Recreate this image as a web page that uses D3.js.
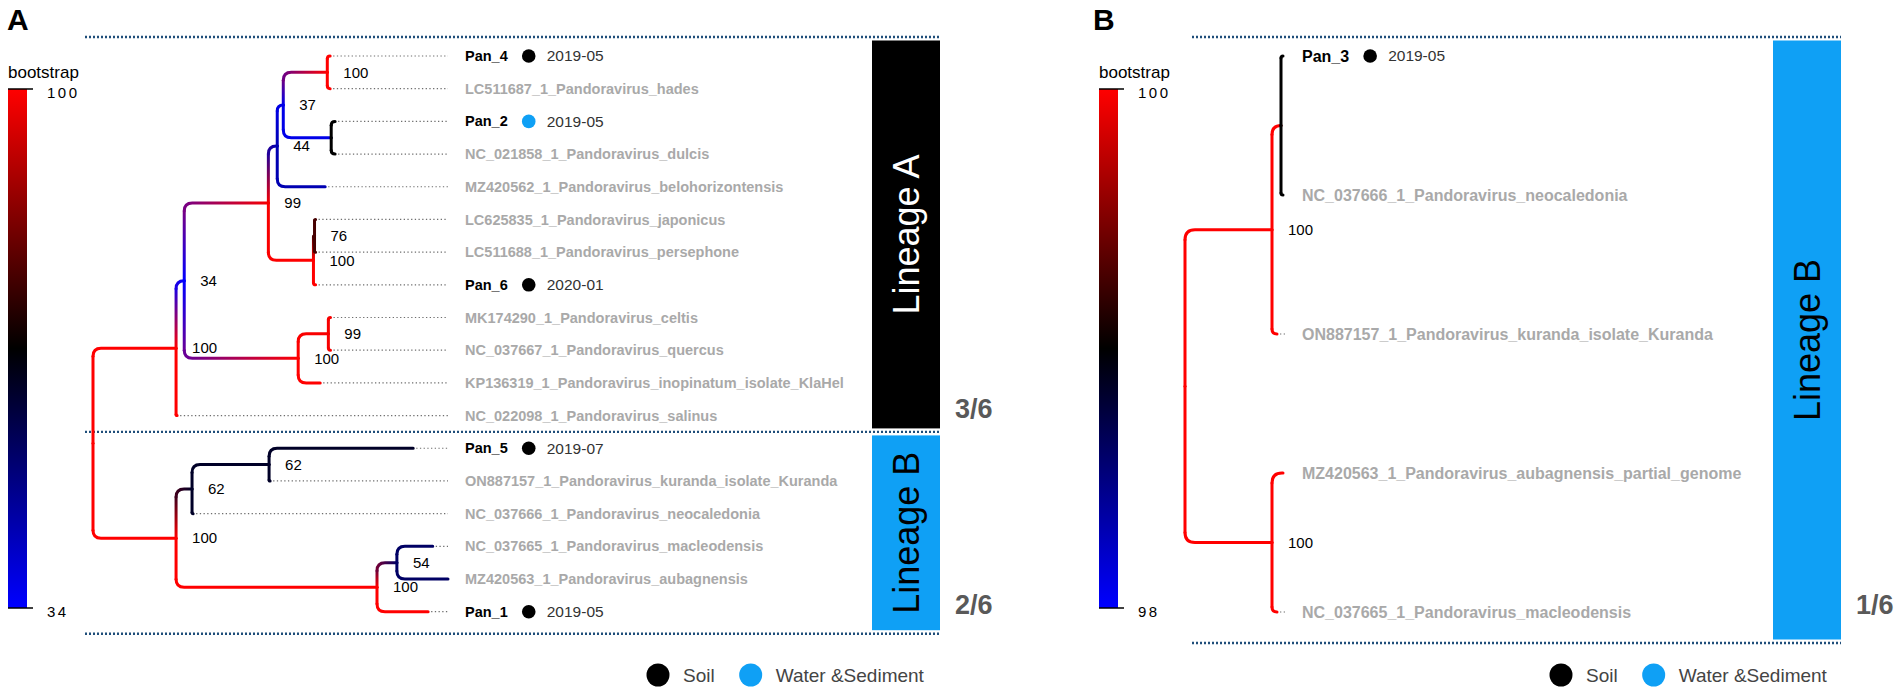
<!DOCTYPE html>
<html>
<head>
<meta charset="utf-8">
<script src="https://cdn.jsdelivr.net/npm/d3@7"></script>
<style>
  body { margin: 0; background: #fff; }
  text { font-family: "Liberation Sans", Arial, Helvetica, sans-serif; }
</style>
</head>
<body>
<script>
// Tree A: [id, parent, branch length, bootstrap]
const nodesA = [
  ["rootA", "", 0, 100],
  ["LinA", "rootA", 0.234, 100],
  ["n34", "LinA", 0.023, 34],
  ["n99", "n34", 0.237, 99],
  ["n44", "n99", 0.025, 44],
  ["n37", "n44", 0.017, 37],
  ["n100a", "n37", 0.124, 100],
  ["Pan_4", "n100a", 0.008, null],
  ["LC511687_1_Pandoravirus_hades", "n100a", 0.008, null],
  ["nPan2", "n37", 0.135, null],
  ["Pan_2", "nPan2", 0.011, null],
  ["NC_021858_1_Pandoravirus_dulcis", "nPan2", 0.011, null],
  ["MZ420562_1_Pandoravirus_belohorizontensis", "n44", 0.135, null],
  ["n100b", "n99", 0.127, 100],
  ["n76", "n100b", 0.003, 76],
  ["LC625835_1_Pandoravirus_japonicus", "n76", 0.003, null],
  ["LC511688_1_Pandoravirus_persephone", "n76", 0.003, null],
  ["Pan_6", "n100b", 0.006, null],
  ["n100c", "n34", 0.321, 100],
  ["n99c", "n100c", 0.085, 99],
  ["MK174290_1_Pandoravirus_celtis", "n99c", 0.006, null],
  ["NC_037667_1_Pandoravirus_quercus", "n99c", 0.006, null],
  ["KP136319_1_Pandoravirus_inopinatum_isolate_KlaHel", "n100c", 0.062, null],
  ["NC_022098_1_Pandoravirus_salinus", "LinA", 0.003, null],
  ["LinB", "rootA", 0.234, 100],
  ["n62a", "LinB", 0.045, 62],
  ["n62b", "n62a", 0.217, 62],
  ["Pan_5", "n62b", 0.406, null],
  ["ON887157_1_Pandoravirus_kuranda_isolate_Kuranda", "n62b", 0.003, null],
  ["NC_037666_1_Pandoravirus_neocaledonia", "n62a", 0.003, null],
  ["n100m", "LinB", 0.566, 100],
  ["n54", "n100m", 0.056, 54],
  ["NC_037665_1_Pandoravirus_macleodensis", "n54", 0.101, null],
  ["MZ420563_1_Pandoravirus_aubagnensis", "n54", 0.144, null],
  ["Pan_1", "n100m", 0.144, null]
];

// Tree B
const nodesB = [
  ["rootB", "", 0, 100],
  ["up", "rootB", 0.87, 100],
  ["sub", "up", 0.09, null],
  ["Pan_3", "sub", 0.02, null],
  ["NC_037666_1_Pandoravirus_neocaledonia", "sub", 0.02, null],
  ["ON887157_1_Pandoravirus_kuranda_isolate_Kuranda", "up", 0.05, null],
  ["low", "rootB", 0.87, 100],
  ["MZ420563_1_Pandoravirus_aubagnensis_partial_genome", "low", 0.11, null],
  ["NC_037665_1_Pandoravirus_macleodensis", "low", 0.05, null]
];

// Our samples
const sampleNames  = ["Pan_1", "Pan_2", "Pan_3", "Pan_4", "Pan_5", "Pan_6"];
const sampleSource = ["Soil", "Water &Sediment", "Soil", "Soil", "Soil", "Soil"];
const sampleDate   = ["2019-05", "2019-05", "2019-05", "2019-05", "2019-07", "2020-01"];

const sources = ["Soil", "Water &Sediment"];
const sourceColors = ["#000000", "#0fa0f5"];

// Lineages
const lineagesA   = ["Lineage A", "Lineage B"];
const lineageFirstA = ["Pan_4", "Pan_5"];
const lineageLastA  = ["NC_022098_1_Pandoravirus_salinus", "Pan_1"];
const countsA     = ["3/6", "2/6"];
const lineagesB   = ["Lineage B"];
const lineageFirstB = ["Pan_3"];
const lineageLastB  = ["NC_037665_1_Pandoravirus_macleodensis"];
const countsB     = ["1/6"];

const bootRangeA = [34, 100];
const bootRangeB = [98, 100];

const sourceColor = d3.scaleOrdinal(sources, sourceColors);
const lineageFill = d3.scaleOrdinal(["Lineage A", "Lineage B"], ["#000000", "#0fa0f5"]);
const lineageText = d3.scaleOrdinal(["Lineage A", "Lineage B"], ["#ffffff", "#000000"]);

const W = 1902, H = 694;
const svg = d3.select("body").append("svg")
    .attr("width", W).attr("height", H)
    .attr("viewBox", `0 0 ${W} ${H}`);
const defs = svg.append("defs");
let gradCount = 0;

function gradient(xa, ya, xb, yb, ca, cb) {
    const id = "g" + (gradCount++);
    const g = defs.append("linearGradient").attr("id", id)
        .attr("gradientUnits", "userSpaceOnUse")
        .attr("x1", xa).attr("y1", ya).attr("x2", xb).attr("y2", yb);
    g.append("stop").attr("offset", 0).attr("stop-color", ca);
    g.append("stop").attr("offset", 1).attr("stop-color", cb);
    return `url(#${id})`;
}

function drawPanel(cfg) {
    const g = svg.append("g");

    // panel letter
    g.append("text").attr("x", cfg.letterX).attr("y", 30)
        .text(cfg.letter)
        .style("font-size", "30px").style("font-weight", "bold");

    // color scale (blue - black - red)
    const [lo, hi] = cfg.bootRange;
    const color = d3.scaleLinear()
        .domain([lo, (lo + hi) / 2, hi])
        .range(["#0000ff", "#000000", "#ff0000"])
        .clamp(true);

    // colorbar
    const barY = d3.scaleLinear().domain(cfg.bootRange).range([608, 89]);
    const cbId = "cb" + cfg.letter;
    const cb = defs.append("linearGradient").attr("id", cbId)
        .attr("x1", 0).attr("y1", 1).attr("x2", 0).attr("y2", 0);
    d3.range(0, 1.0001, 0.1).forEach(t => {
        cb.append("stop").attr("offset", t).attr("stop-color", color(lo + t * (hi - lo)));
    });
    g.append("text").attr("x", cfg.barX).attr("y", 78)
        .text("bootstrap").style("font-size", "17px");
    g.append("rect")
        .attr("x", cfg.barX).attr("y", barY(hi))
        .attr("width", 19).attr("height", barY(lo) - barY(hi))
        .attr("fill", `url(#${cbId})`);
    [lo, hi].forEach(v => {
        g.append("line")
            .attr("x1", cfg.barX).attr("x2", cfg.barX + 25)
            .attr("y1", barY(v)).attr("y2", barY(v))
            .attr("stroke", "#000").attr("stroke-width", 1.5);
        g.append("text")
            .attr("x", cfg.barX + 39).attr("y", barY(v) + 4).attr("dy", "0.35em")
            .text(v).style("font-size", "15px").style("letter-spacing", "2.5px");
    });

    // build tree
    const root = d3.stratify().id(d => d[0]).parentId(d => d[1] || null)(cfg.nodes);
    root.eachBefore(n => { n.dist = n.parent ? n.parent.dist + n.data[2] : 0; });
    const tips = root.leaves().map(d => d.id);
    const x = d3.scaleLinear().domain([0, 1]).range([cfg.x0, cfg.x1]);
    const y = d3.scalePoint().domain(tips).range([cfg.yTop, cfg.yBot]);
    root.eachAfter(n => {
        n.px = x(n.dist);
        n.py = n.children
            ? (n.children[0].py + n.children[n.children.length - 1].py) / 2
            : y(n.id);
    });
    // colour leaving a node (its own vertical and its children's edges start here)
    const outColor = n => n.data[3] == null ? "#000000" : color(n.data[3]);
    // colour at the end of the edge arriving at a node
    const inColor = n => (n.children && n.data[3] != null) ? color(n.data[3]) : outColor(n.parent);

    // section dotted lines
    const lineYs = [y(cfg.first[0]) - 19];
    for (let i = 0; i < cfg.lineages.length - 1; i++) {
        lineYs.push((y(cfg.last[i]) + y(cfg.first[i + 1])) / 2);
    }
    lineYs.push(y(cfg.last[cfg.last.length - 1]) + cfg.padBottom);
    lineYs.forEach(ly => {
        g.append("line")
            .attr("x1", cfg.lineX0).attr("x2", cfg.boxX + 68)
            .attr("y1", ly).attr("y2", ly)
            .attr("stroke", "#1f4e7a").attr("stroke-width", 2.4)
            .attr("stroke-dasharray", "2,2");
    });

    // lineage boxes
    cfg.lineages.forEach((name, i) => {
        const top = lineYs[i] + 3.5, bot = lineYs[i + 1] - 3.5;
        g.append("rect")
            .attr("x", cfg.boxX).attr("y", top)
            .attr("width", 68).attr("height", bot - top)
            .attr("fill", lineageFill(name));
        g.append("text")
            .attr("transform", `translate(${cfg.boxX + 34},${(top + bot) / 2}) rotate(-90)`)
            .attr("text-anchor", "middle").attr("dy", "0.35em")
            .text(name)
            .style("font-size", "36px").style("fill", lineageText(name));
        g.append("text")
            .attr("x", cfg.boxX + 83).attr("y", y(cfg.last[i]) + 2)
            .text(cfg.counts[i])
            .style("font-size", "27px").style("font-weight", "bold").style("fill", "#595959");
    });

    // leader lines
    const leaderEnd = x(1);
    root.leaves().forEach(n => {
        if (n.px < leaderEnd - 2) {
            g.append("line")
                .attr("x1", n.px + 3).attr("x2", leaderEnd)
                .attr("y1", n.py).attr("y2", n.py)
                .attr("stroke", "#6e6e6e").attr("stroke-width", 1.2)
                .attr("stroke-dasharray", "1.3,2.4");
        }
    });

    // edges: elbow with rounded corner, colour blended from parent to child
    const edges = g.append("g").attr("fill", "none")
        .attr("stroke-width", 3).attr("stroke-linecap", "round");
    root.descendants().filter(n => n.parent).forEach(n => {
        const p = n.parent;
        const x0 = p.px, y0 = p.py, x1 = n.px, y1 = n.py;
        const c0 = outColor(p), c1 = inColor(n);
        const dy = y1 - y0, s = Math.sign(dy) || 1, ady = Math.abs(dy), dx = x1 - x0;
        const r = Math.max(0, Math.min(cfg.radius, ady, dx));
        const L = (ady + dx) || 1;
        const cm = d3.interpolateRgb(c0, c1)(ady / L);
        const yc = y1 - s * r;
        if (Math.abs(yc - y0) > 0.1) {
            edges.append("path")
                .attr("d", `M${x0},${y0}V${yc}`)
                .attr("stroke", gradient(x0, y0, x0, yc, c0, cm));
        }
        edges.append("path")
            .attr("d", `M${x0},${yc}Q${x0},${y1} ${x0 + r},${y1}H${x1}`)
            .attr("stroke", dx > 0.5 ? gradient(x0, y1, x1, y1, cm, c1) : c1);
    });

    // bootstrap labels
    root.descendants()
        .filter(n => n.children && n.parent && n.data[3] != null)
        .forEach(n => {
            g.append("text")
                .attr("x", n.px + 16).attr("y", n.py).attr("dy", "0.35em")
                .text(n.data[3]).style("font-size", "15px");
        });

    // tip labels
    root.leaves().forEach(n => {
        const si = sampleNames.indexOf(n.id);
        const t = g.append("text")
            .attr("x", cfg.labelX).attr("y", n.py).attr("dy", "0.35em")
            .text(n.id)
            .style("font-size", cfg.labelSize + "px").style("font-weight", "bold")
            .style("fill", si >= 0 ? "#000" : "#a9a9a9");
        if (si >= 0) {
            const cx = cfg.labelX + t.node().getComputedTextLength() + 21;
            g.append("circle").attr("cx", cx).attr("cy", n.py).attr("r", 6.8)
                .attr("fill", sourceColor(sampleSource[si]));
            g.append("text")
                .attr("x", cx + 18).attr("y", n.py).attr("dy", "0.35em")
                .text(sampleDate[si])
                .style("font-size", "15.5px").style("fill", "#333");
        }
    });

    // legend
    let lx = cfg.legendX;
    sources.forEach(s => {
        g.append("circle").attr("cx", lx).attr("cy", 675).attr("r", 11.5)
            .attr("fill", sourceColor(s));
        const t = g.append("text").attr("x", lx + 25).attr("y", 675).attr("dy", "0.35em")
            .text(s).style("font-size", "19px").style("fill", "#444");
        lx += 25 + t.node().getComputedTextLength() + 36;
    });
}

drawPanel({
    letter: "A", letterX: 7,
    nodes: nodesA, bootRange: bootRangeA, barX: 8,
    x0: 93, x1: 448, yTop: 56, yBot: 611.7, radius: 8,
    labelX: 465, labelSize: 14.5,
    lineages: lineagesA, first: lineageFirstA, last: lineageLastA, counts: countsA,
    lineX0: 85, boxX: 872, padBottom: 22,
    legendX: 658
});

drawPanel({
    letter: "B", letterX: 1093,
    nodes: nodesB, bootRange: bootRangeB, barX: 1099,
    x0: 1185, x1: 1285, yTop: 56, yBot: 612, radius: 10,
    labelX: 1302, labelSize: 16,
    lineages: lineagesB, first: lineageFirstB, last: lineageLastB, counts: countsB,
    lineX0: 1192, boxX: 1773, padBottom: 31,
    legendX: 1561
});
</script>
</body>
</html>
